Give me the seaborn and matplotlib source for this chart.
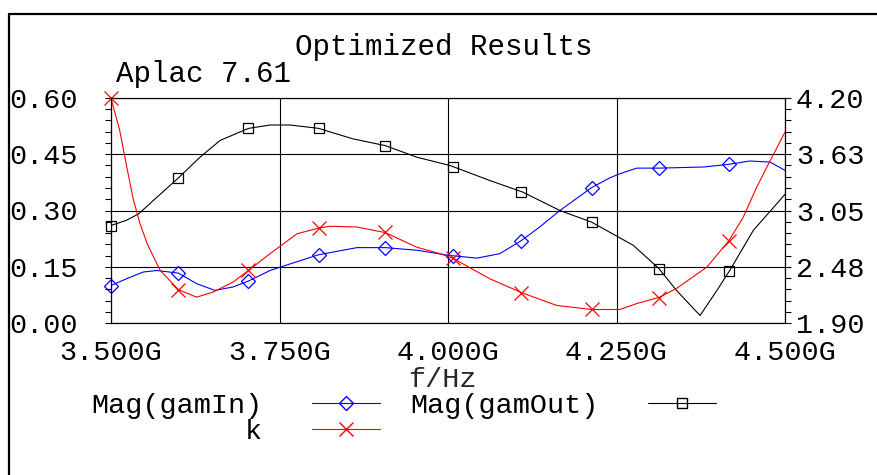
import matplotlib
matplotlib.use("Agg")
import matplotlib.pyplot as plt
import seaborn as sns
from matplotlib.lines import Line2D
from matplotlib.ticker import AutoMinorLocator

# Data (frequency in GHz)
gamin_f = [3.500, 3.523, 3.548, 3.568, 3.600, 3.627, 3.654, 3.681, 3.704, 3.736,
           3.751, 3.808, 3.865, 3.907, 3.954, 4.003, 4.043, 4.077, 4.109, 4.136,
           4.166, 4.213, 4.240, 4.255, 4.280, 4.313, 4.379, 4.416, 4.448, 4.478, 4.500]
gamin_v = [0.100, 0.118, 0.136, 0.140, 0.133, 0.105, 0.087, 0.096, 0.112, 0.140,
           0.149, 0.182, 0.201, 0.201, 0.194, 0.180, 0.173, 0.185, 0.220, 0.256,
           0.300, 0.361, 0.387, 0.398, 0.413, 0.413, 0.416, 0.423, 0.432, 0.429, 0.407]

gamout_f = [3.500, 3.523, 3.541, 3.563, 3.600, 3.632, 3.662, 3.704, 3.736, 3.766,
            3.808, 3.859, 3.907, 3.954, 4.003, 4.062, 4.111, 4.166, 4.213, 4.240,
            4.275, 4.313, 4.339, 4.374, 4.399, 4.418, 4.453, 4.500]
gamout_v = [0.260, 0.274, 0.291, 0.327, 0.387, 0.442, 0.487, 0.519, 0.528, 0.528,
            0.519, 0.491, 0.473, 0.442, 0.420, 0.380, 0.349, 0.300, 0.269, 0.242,
            0.207, 0.145, 0.087, 0.020, 0.087, 0.140, 0.247, 0.343]

k_f = [3.500, 3.513, 3.523, 3.533, 3.543, 3.554, 3.573, 3.600, 3.627,
       3.652, 3.681, 3.704, 3.736, 3.776, 3.808, 3.825, 3.865, 3.907, 3.954,
       3.988, 4.008, 4.062, 4.109, 4.161, 4.213, 4.255, 4.280, 4.314, 4.339,
       4.384, 4.417, 4.438, 4.458, 4.478, 4.500]
k_v = [4.200, 3.866, 3.510, 3.165, 2.916, 2.705, 2.437, 2.241, 2.164,
       2.218, 2.318, 2.437, 2.609, 2.812, 2.870, 2.889, 2.881, 2.824, 2.674,
       2.609, 2.559, 2.352, 2.211, 2.080, 2.038, 2.038, 2.099, 2.164, 2.253,
       2.471, 2.743, 2.981, 3.288, 3.560, 3.851]

# symbol positions
marker_f = [3.500, 3.600, 3.704, 3.808, 3.907, 4.008, 4.109, 4.213, 4.313, 4.417]
gamin_mk = [0.100, 0.133, 0.112, 0.182, 0.201, 0.180, 0.220, 0.361, 0.413, 0.423]
gamout_mk = [0.260, 0.387, 0.519, 0.519, 0.473, 0.416, 0.349, 0.269, 0.145, 0.138]
k_mk = [4.20, 2.24, 2.44, 2.87, 2.83, 2.56, 2.21, 2.04, 2.16, 2.74]

x_ticks = [3.5, 3.75, 4.0, 4.25, 4.5]
x_labels = ["3.500G", "3.750G", "4.000G", "4.250G", "4.500G"]
yl_ticks = [0.0, 0.15, 0.30, 0.45, 0.60]
yl_labels = ["0.00", "0.15", "0.30", "0.45", "0.60"]
yr_ticks = [1.90, 2.475, 3.05, 3.625, 4.20]
yr_labels = ["1.90", "2.48", "3.05", "3.63", "4.20"]

sns.set_style("white")
plt.rcParams['font.family'] = ['Liberation Mono', 'DejaVu Sans Mono']
plt.rcParams['text.color'] = 'black'
plt.rcParams['xtick.color'] = 'black'
plt.rcParams['ytick.color'] = 'black'

FS = 20.5
W, H = 877, 475
fig = plt.figure(figsize=(W / 100, H / 100), dpi=100)
ax = fig.add_axes([111 / W, 1 - 323 / H, 674 / W, 225 / H])
ax2 = ax.twinx()

# curves
sns.lineplot(x=gamin_f, y=gamin_v, color='blue', lw=0.8, estimator=None, ax=ax)
sns.lineplot(x=gamout_f, y=gamout_v, color='black', lw=0.8, estimator=None, ax=ax)
sns.lineplot(x=k_f, y=k_v, color='red', lw=0.8, estimator=None, ax=ax2)

# symbols
sns.lineplot(x=marker_f, y=gamin_mk, linestyle='', marker='D', ms=7, mfc='none',
             mec='blue', mew=0.9, estimator=None, ax=ax, clip_on=False)
sns.lineplot(x=marker_f, y=gamout_mk, linestyle='', marker='s', ms=7, mfc='none',
             mec='black', mew=0.9, estimator=None, ax=ax, clip_on=False)
sns.lineplot(x=marker_f, y=k_mk, linestyle='', marker='x', ms=10, mec='red',
             mew=0.9, estimator=None, ax=ax2, clip_on=False)

ax.set_xlim(3.5, 4.5)
ax.set_ylim(0, 0.6)
ax2.set_ylim(1.9, 4.2)
ax.set_xticks(x_ticks)
ax.set_xticklabels(x_labels)
ax.set_yticks(yl_ticks)
ax.set_yticklabels(yl_labels)
ax2.set_yticks(yr_ticks)
ax2.set_yticklabels(yr_labels)
ax.xaxis.set_minor_locator(AutoMinorLocator(5))
ax.yaxis.set_minor_locator(AutoMinorLocator(5))
ax2.yaxis.set_minor_locator(AutoMinorLocator(5))

ax.grid(True, which='major', color='black', lw=0.8)
ax.tick_params(axis='x', which='both', direction='out', length=4, width=0.8,
               labelsize=FS, pad=8)
ax.tick_params(axis='y', which='both', direction='out', length=4, width=0.8,
               labelsize=FS, pad=20)
ax2.tick_params(axis='y', which='both', direction='out', length=4, width=0.8,
                labelsize=FS, pad=4)
for a in (ax, ax2):
    for sp in a.spines.values():
        sp.set_color('black')
        sp.set_linewidth(0.8)
ax.set_ylabel('')
ax2.set_ylabel('')
ax.set_xlabel('f/Hz', fontsize=FS)
ax.xaxis.set_label_coords((442 - 111) / 674, -0.195)

fig.text(444 / W, 1 - 55 / H, 'Optimized Results', ha='center', va='baseline', fontsize=21)
fig.text(116 / W, 1 - 82 / H, 'Aplac 7.61', ha='left', va='baseline', fontsize=21)

# outer frame (partly cut off in the original)
fig.add_artist(Line2D([9 / W, 1.0], [1 - 14 / H] * 2, color='black', lw=1.6,
                      transform=fig.transFigure))
fig.add_artist(Line2D([9 / W] * 2, [0.0, 1 - 14 / H], color='black', lw=1.6,
                      transform=fig.transFigure))

h_in = Line2D([], [], color='blue', lw=0.8, marker='D', ms=7, mfc='none', mec='blue')
h_k = Line2D([], [], color='red', lw=0.8, marker='x', ms=10, mec='red')
h_out = Line2D([], [], color='black', lw=0.8, marker='s', ms=7, mfc='none', mec='black')
fig.legend(handles=[h_in, h_k, h_out], labels=['Mag(gamIn)', 'k', 'Mag(gamOut)'],
           ncol=2, markerfirst=False, frameon=False, loc='upper left',
           bbox_to_anchor=(91 / W, 1 - 393 / H), borderpad=0, borderaxespad=0,
           handlelength=2.39, handletextpad=1.75, columnspacing=1.05,
           labelspacing=0.0, fontsize=FS)

fig.savefig('out.png', dpi=100)
